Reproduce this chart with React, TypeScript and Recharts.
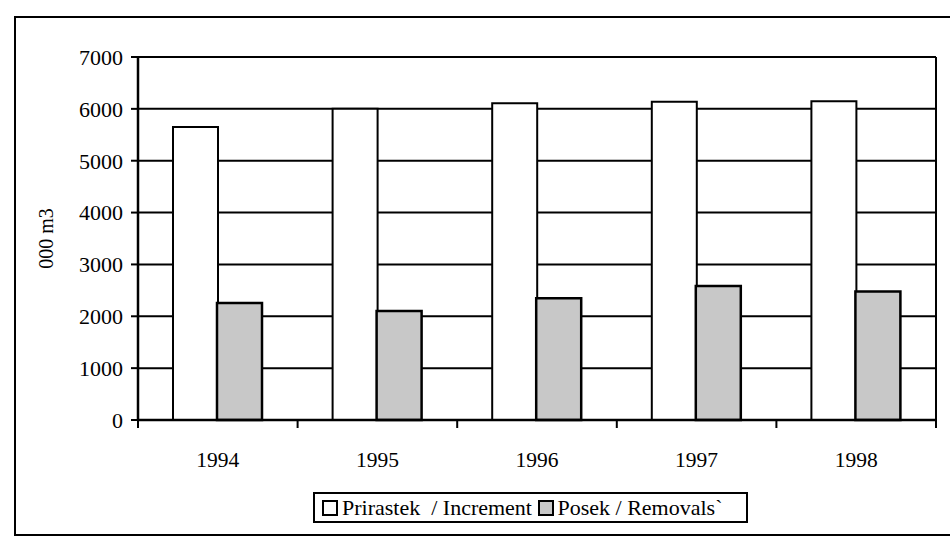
import { Bar, BarChart, CartesianGrid, XAxis, YAxis } from "recharts";

const years = ["1994", "1995", "1996", "1997", "1998"];
const increment = [5650, 6000, 6110, 6135, 6145];
const removals = [2255, 2100, 2350, 2585, 2480];
const yTicks = [0, 1000, 2000, 3000, 4000, 5000, 6000, 7000];

const seriesNames = { increment: "Prirastek  / Increment", removals: "Posek / Removals`" };
const REMOVAL_FILL = "#c8c8c8";
const FONT = '"Liberation Serif", "Times New Roman", serif';

const data = years.map((year, i) => ({
  year,
  increment: increment[i],
  removals: removals[i],
}));

const W = 950;
const H = 545;
const MARGIN = { top: 57, right: 13, left: 38, bottom: 85 };
const Y_AXIS_W = 100;
const PLOT_W = W - MARGIN.left - Y_AXIS_W - MARGIN.right - 1;

// ticks between categories (Excel style), labels centred on the category
function YearTick(props: any) {
  const { x, y, payload, index } = props;
  const band = PLOT_W / years.length;
  const axisY = y - 8;
  return (
    <g>
      <line x1={x - band / 2} x2={x - band / 2} y1={axisY} y2={axisY + 8} stroke="#000" strokeWidth={2} />
      {index === years.length - 1 && (
        <line x1={x + band / 2} x2={x + band / 2} y1={axisY} y2={axisY + 8} stroke="#000" strokeWidth={2} />
      )}
      <text x={x} y={y + 39} textAnchor="middle" fontSize={21.5} fontFamily={FONT} fill="#000">
        {payload.value}
      </text>
    </g>
  );
}

function Swatch({ fill }: { fill: string }) {
  return (
    <span
      style={{
        display: "inline-block",
        width: 12,
        height: 12,
        background: fill,
        border: "2px solid #000",
        marginRight: 4,
        verticalAlign: "-1px",
      }}
    />
  );
}

export default function App() {
  return (
    <div style={{ position: "absolute", left: 0, top: 0, width: W, height: H, background: "#fff", overflow: "hidden" }}>
      <div
        style={{
          position: "absolute",
          left: 14,
          top: 16,
          width: 950,
          height: 520,
          border: "2px solid #000",
          boxSizing: "border-box",
        }}
      />
      <div style={{ position: "absolute", left: 0, top: 0 }}>
        <BarChart width={W} height={H} data={data} margin={MARGIN} barSize={45} barGap={-1}>
          <CartesianGrid horizontal vertical={false} stroke="#000" strokeWidth={2} />
          <XAxis
            dataKey="year"
            axisLine={{ stroke: "#000", strokeWidth: 2.5 }}
            tickLine={false}
            tickSize={8}
            tickMargin={0}
            height={40}
            interval={0}
            tick={<YearTick />}
          />
          <YAxis
            width={Y_AXIS_W}
            domain={[0, 7000]}
            ticks={yTicks}
            interval={0}
            axisLine={{ stroke: "#000", strokeWidth: 2.5 }}
            tickLine={{ stroke: "#000", strokeWidth: 2 }}
            tickSize={7}
            tickMargin={8}
            tick={{ fill: "#000", fontSize: 22, fontFamily: FONT }}
            label={{
              value: "000 m3",
              angle: -90,
              position: "insideLeft",
              offset: 8,
              style: { textAnchor: "middle", fontSize: 20, fontFamily: FONT, fill: "#000" },
            }}
          />
          <YAxis
            yAxisId="right"
            orientation="right"
            width={1}
            domain={[0, 7000]}
            tick={false}
            tickLine={false}
            axisLine={{ stroke: "#000", strokeWidth: 2 }}
          />
          <Bar
            dataKey="increment"
            name={seriesNames.increment}
            fill="#fff"
            stroke="#000"
            strokeWidth={2}
            isAnimationActive={false}
          />
          <Bar
            dataKey="removals"
            name={seriesNames.removals}
            fill={REMOVAL_FILL}
            stroke="#000"
            strokeWidth={2.5}
            isAnimationActive={false}
          />
        </BarChart>
      </div>
      <div
        style={{
          position: "absolute",
          left: 313,
          top: 492,
          width: 435,
          height: 31,
          border: "2px solid #000",
          boxSizing: "border-box",
          fontFamily: FONT,
          fontSize: 22,
          lineHeight: "27px",
          paddingLeft: 7,
          whiteSpace: "pre",
          color: "#000",
          overflow: "hidden",
        }}
      >
        <Swatch fill="#fff" />
        {seriesNames.increment + " "}
        <Swatch fill={REMOVAL_FILL} />
        {seriesNames.removals}
      </div>
    </div>
  );
}
